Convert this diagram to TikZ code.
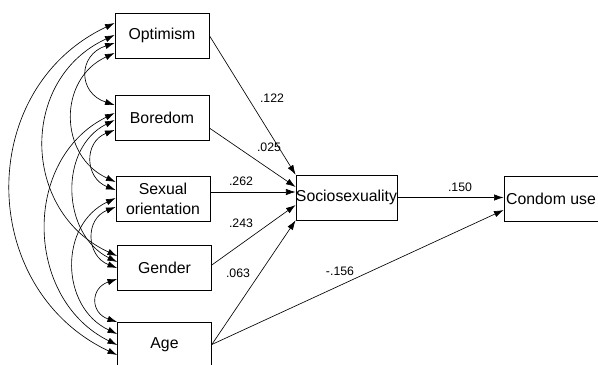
\documentclass[tikz,border=0pt]{standalone}
\usepackage{fontspec}
\setmainfont{Liberation Sans}
\usetikzlibrary{arrows.meta, calc, positioning}
\tikzset{
  % boxes and arrows as in the path diagram
  every picture/.append style = {line width=0.55pt},
  varbox/.style  = {draw, rectangle, inner sep=0pt, minimum width=2.82cm,
                    minimum height=1.35cm, align=center,
                    font=\fontsize{13.5}{17}\selectfont},
  path/.style    = {-{Latex[length=2.9mm, width=1.9mm]}},
  cov/.style     = {{Latex[length=2.9mm, width=1.9mm]}-{Latex[length=2.9mm, width=1.9mm]}},
  coef/.style    = {font=\fontsize{10.5}{12}\selectfont, inner sep=1pt},
}

\begin{document}
\begin{tikzpicture}[x=0.03cm, y=-0.03cm]
  \useasboundingbox (0,0) rectangle (598,364);
  % exogenous variables
  \node[varbox] (opt)    at (162,35.5)  {Optimism};
  \node[varbox] (bore)   at (162,117.5) {Boredom};
  \node[varbox] (sexor)  at (163,199)   {Sexual\\orientation};
  \node[varbox] (gender) at (164.5,267.5) {Gender};
  \node[varbox] (age)    at (164.5,344.5) {Age};
  % mediator and outcome
  \node[varbox, minimum width=2.85cm] (socio)  at (346.5,197.5) {Sociosexuality};
  \node[varbox] (condom) at (551,198.5) {Condom use};
  % covariances
  \foreach \a/\ya/\b/\yb/\dx/\h in {
      opt/-12.5/age/10.5/-140/66,
      opt/-0.5/gender/-11.5/-96/44,
      opt/7.5/bore/-12.5/-37/12,
      opt/17.5/sexor/-17/-57/26,
      bore/-4.5/age/0.5/-93/46,
      bore/2.5/gender/-5.5/-56/28,
      bore/12.5/sexor/-9/-31/12,
      sexor/-1/age/-10.5/-57/27,
      sexor/8/gender/0.5/-31/12,
      gender/11.5/age/-22.5/-27/9}
    \draw[cov] ($(\a.west)+(0,\ya)$) .. controls +(\dx,\h) and +(\dx,-\h) .. ($(\b.west)+(0,\yb)$);
  % paths
  \draw[path] (opt.east) -- (socio.north west);
  \draw[path] ($(bore.east)+(0,10.5)$) -- ($(socio.west)+(0,-10.5)$);
  \draw[path] ($(sexor.east)+(0,-7)$) -- ($(socio.west)+(0,-5.5)$);
  \draw[path] ($(gender.east)+(0,-2.5)$) -- ($(socio.west)+(0,7.5)$);
  \draw[path] (age.east) -- (socio.south west);
  \draw[path] (socio.east) -- (socio.east -| condom.west);
  \draw[path] (age.east) -- ($(condom.west)+(0,11.5)$);
  % coefficients
  \node[coef] (c1) at (272,98)  {.122};
  \node[coef] (c2) at (269,147) {.025};
  \node[coef] (c3) at (241,181) {.262};
  \node[coef] (c4) at (241,223) {.243};
  \node[coef] (c5) at (238,273) {.063};
  \node[coef] (c6) at (340,271) {-.156};
  \node[coef] (c7) at (460,187) {.150};
\end{tikzpicture}
\end{document}
